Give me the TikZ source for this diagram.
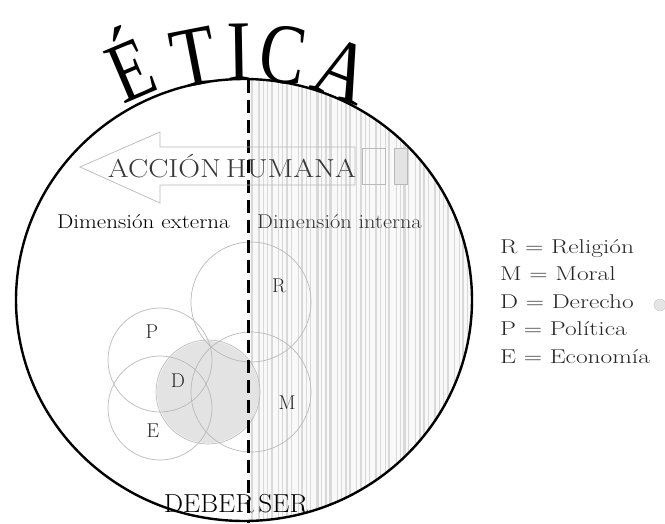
\documentclass[tikz,border=0pt]{standalone}
\usepackage{graphicx}
\usepackage{fontspec}
\newfontfamily\titlefont{Liberation Serif}
\newcommand\stretchtext[2]{\scalebox{#1}[1]{#2}}
\begin{document}
\begin{tikzpicture}[x=1pt,y=-1pt,
        area/.style={circle, draw=gray!55, line width=0.7pt, minimum size=#1, inner sep=0pt},
        letter/.style={anchor=base, inner sep=0pt, font=\titlefont\fontsize{86}{86}\selectfont},
        tag/.style={inner sep=0pt, font=\fontsize{20}{20}\selectfont, text=black!85},
        legend/.style={anchor=base west, inner sep=0pt, font=\fontsize{20}{20}\selectfont, text=black!85},
        stripe/.style={draw=gray!30}
    ]
    \useasboundingbox (0,0) rectangle (665,523);

    % right half: vertical stripes
    \begin{scope}
        \clip (248,0) rectangle (665,523);
        \clip (244,300) ellipse [x radius=228, y radius=221];
        \fill[gray!5] (248,60) rectangle (480,530);
        \foreach \i in {0,...,46}{
            \pgfmathsetmacro\lw{mod(\i,3)==1 ? 2.2 : (mod(\i,5)==0 ? 1.4 : 0.8)}
            \pgfmathsetmacro\dx{mod(\i*7,4)*0.6}
            \draw[stripe, line width=\lw pt] (252+4.9*\i+\dx,60) -- (252+4.9*\i+\dx,530);
        }
    \end{scope}

    \fill[gray!22] (208,392) circle (51);
    \begin{scope}[every node/.style={area=104pt}]
        \node[area=120pt] (cR) at (251,302) {};
        \node (cP) at (160,360) {};
        \node (cE) at (160,408) {};
        \node (cD) at (208,392) {};
        \node[area=120pt] (cM) at (251,392) {};
    \end{scope}

    \draw[line width=2.4pt] (244,300) ellipse [x radius=228, y radius=221];
    \draw[line width=3pt, dash pattern=on 13pt off 7pt] (248,80) -- (248,523);

    % arrow
    \draw[gray!55, line width=0.7pt] (80,167) -- (160,132) -- (160,147) -- (355,147)
        -- (355,185) -- (160,185) -- (160,203) -- cycle;
    \draw[gray!55, line width=0.7pt] (362,148) rectangle (385,184);
    \draw[gray!55, fill=gray!22, line width=0.7pt] (394,148) rectangle (407,184);

    \node[letter, rotate=23] (e1) at (142,96) {\stretchtext{0.78}{É}};
    \node[letter, rotate=11] (e2) at (199,85) {\stretchtext{0.85}{T}};
    \node[letter, rotate=1] (e3) at (240,80) {\stretchtext{0.85}{I}};
    \node[letter, rotate=-8] (e4) at (279,83) {\stretchtext{0.8}{C}};
    \node[letter, rotate=-21] (e5) at (333,97) {\stretchtext{0.85}{A}};

    \node[anchor=base, inner sep=0pt, text=black!78, font=\fontsize{26}{26}\selectfont] (accion) at (232,177) {\stretchtext{1.16}{ACCIÓN\,HUMANA}};
    \node[anchor=base west, inner sep=0pt, font=\fontsize{20}{20}\selectfont] (ext) at (57,228) {\stretchtext{1.15}{Dimensión externa}};
    \node[anchor=base west, inner sep=0pt, font=\fontsize{20}{20}\selectfont, text=black!80] (int) at (257,228) {\stretchtext{1.12}{Dimensión interna}};
    \node[anchor=base, inner sep=0pt, font=\fontsize{26}{26}\selectfont] (deber) at (236,512) {\stretchtext{1.05}{DEBER\,SER}};

    \node[tag] (R) at (279,286) {R};
    \node[tag] (P) at (152,332) {P};
    \node[tag] (D) at (178,381) {D};
    \node[tag] (E) at (153,431) {E};
    \node[tag] (M) at (287,403) {M};

    \node[legend] (lR) at (500,253) {\stretchtext{1.27}{R = Religión}};
    \node[legend] (lM) at (500,280.5) {\stretchtext{1.27}{M = Moral}};
    \node[legend] (lD) at (500,308) {\stretchtext{1.27}{D = Derecho}};
    \node[legend] (lP) at (500,335.5) {\stretchtext{1.27}{P = Política}};
    \node[legend] (lE) at (500,363) {\stretchtext{1.27}{E = Economía}};
    \node[circle, draw=gray!45, fill=gray!20, minimum size=12pt, inner sep=0pt] (dot) at (660,305) {};

\end{tikzpicture}
\end{document}
